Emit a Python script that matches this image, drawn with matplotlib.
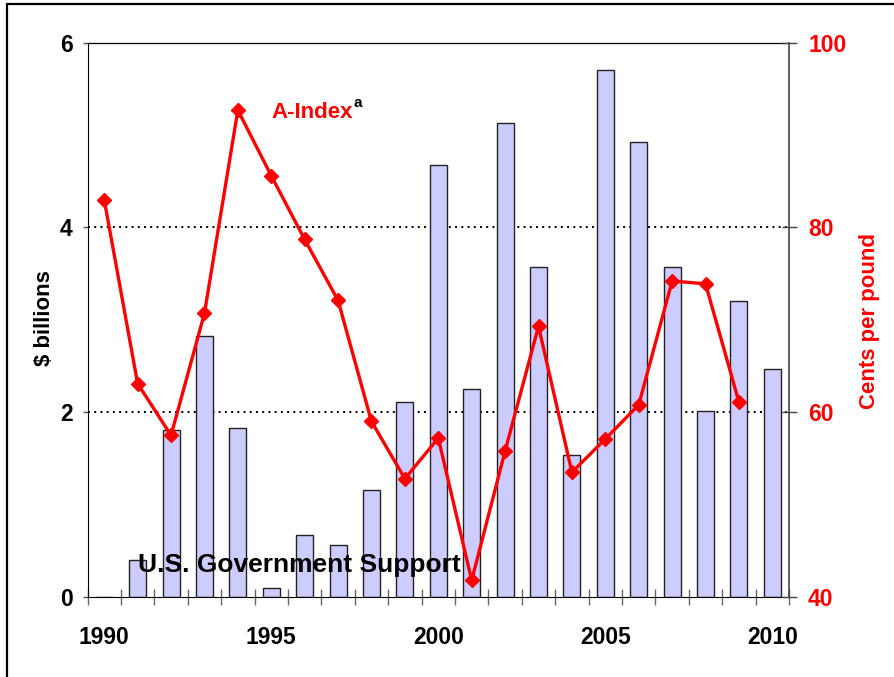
import matplotlib.pyplot as plt
from matplotlib.patches import Rectangle

plt.rcParams['font.family'] = ['Liberation Sans', 'DejaVu Sans']
plt.rcParams['font.weight'] = 'bold'

# datos
anos = list(range(1990, 2011))
apoio_bilhoes = [0.0, 0.40, 1.81, 2.82, 1.83, 0.10, 0.67, 0.56, 1.155, 2.11, 4.68,
                 2.25, 5.13, 3.575, 1.54, 5.70, 4.92, 3.57, 2.01, 3.20, 2.47]
anos_indice = list(range(1990, 2010))
a_index = [83.0, 63.1, 57.5, 70.7, 92.7, 85.6, 78.7, 72.1, 59.0, 52.8,
           57.2, 41.8, 55.8, 69.3, 53.5, 57.1, 60.8, 74.2, 73.9, 61.1]
rotulos_x = [1990, 1995, 2000, 2005, 2010]

fig = plt.figure(figsize=(8.94, 6.77), dpi=100)
ax = fig.add_axes([0.0979, 0.1182, 0.7847, 0.8187])
ax2 = ax.twinx()

# barras do apoio do governo
ax.bar(anos, apoio_bilhoes, width=0.51, color='#ccccff', edgecolor='#222222',
       linewidth=1.0, zorder=2)
ax.set_ylim(0, 6)
ax.set_xlim(1989.5, 2010.5)
ax.set_yticks([0, 2, 4, 6])
ax.tick_params(axis='y', direction='out', length=3.6, color='#555555',
               labelsize=16.5, pad=7, width=1)
for v in [2, 4]:
    ax.axhline(v, color='black', linestyle=(0, (1, 2.2)), linewidth=1.4, zorder=1)

# eixo x: marcas entre categorias, rotulos a cada 5 anos
ax.set_xticks([a - 0.5 for a in anos] + [2010.5])
ax.set_xticklabels([])
ax.tick_params(axis='x', which='major', direction='inout', length=12.2,
               color='#666666', width=1)
ax.set_xticks(rotulos_x, minor=True)
ax.set_xticklabels([str(a) for a in rotulos_x], minor=True)
ax.tick_params(axis='x', which='minor', length=0, labelsize=16.5, pad=21)

ax.spines['left'].set_color('black')
ax.spines['bottom'].set_color('black')
ax.spines['top'].set_color('black')
ax.spines['top'].set_linewidth(0.9)
ax.spines['right'].set_visible(False)

# linha do A-Index
ax2.plot(anos_indice, a_index, color='#ff0000', linewidth=2.4, marker='D',
         markersize=7.5, zorder=3)
ax2.set_ylim(40, 100)
ax2.set_yticks([40, 60, 80, 100])
ax2.tick_params(axis='y', direction='inout', length=10.8, color='#444444',
                labelsize=16.5, labelcolor='#ff0000', pad=8.3, width=1)
ax2.spines['right'].set_color('#444444')
ax2.spines['right'].set_linewidth(1.2)
for s in ['left', 'top', 'bottom']:
    ax2.spines[s].set_visible(False)

# textos
ax2.text(1995.0, 91.8, 'A-Index', color='#ff0000', fontsize=16,
         fontweight='bold')
ax2.text(1997.45, 93.0, 'a', color='black', fontsize=11, fontweight='bold')
ax2.text(1991.0, 42.7, 'U.S. Government Support', color='black', fontsize=19,
         fontweight='bold', zorder=4)

fig.text(44 / 894, 1 - 318 / 677, '$ billions', rotation=90, fontsize=16,
         ha='center', va='center')
fig.text(869 / 894, 1 - 321 / 677, 'Cents per pound', rotation=90, fontsize=16,
         color='#ff0000', ha='center', va='center')

# moldura da figura
fig.patches.append(Rectangle((7 / 894, -0.05), 1.2, 1.05 - 4 / 677,
                             transform=fig.transFigure, fill=False,
                             edgecolor='black', linewidth=1.6))

plt.savefig('out.png', dpi=100)
plt.close()
